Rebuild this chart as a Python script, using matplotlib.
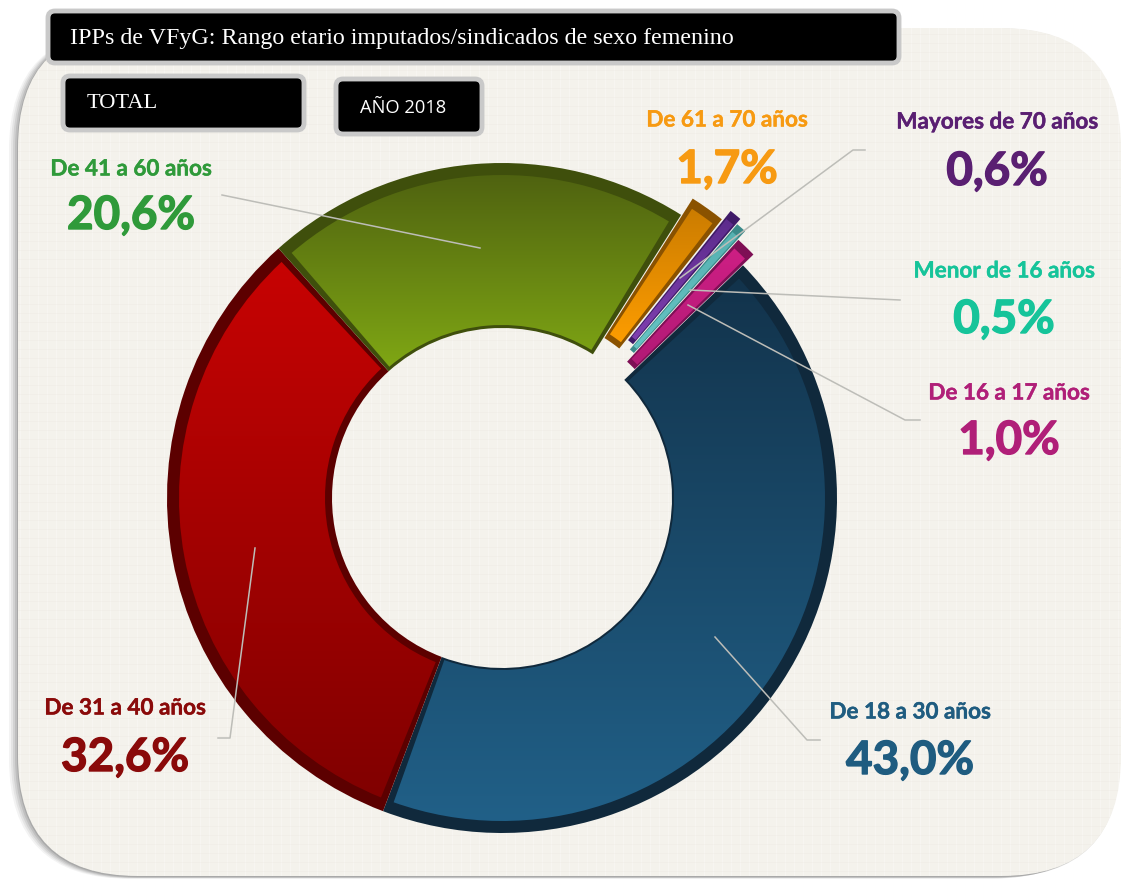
import numpy as np
import matplotlib
matplotlib.use('Agg')
import matplotlib.pyplot as plt
import matplotlib.patheffects as pe
from matplotlib.colors import LinearSegmentedColormap
from matplotlib.patches import FancyBboxPatch, Wedge

labels = ['De 18 a 30 años', 'De 31 a 40 años', 'De 41 a 60 años', 'De 61 a 70 años',
          'Mayores de 70 años', 'Menor de 16 años', 'De 16 a 17 años']
values = [43.0, 32.6, 20.6, 1.7, 0.6, 0.5, 1.0]
pct_labels = ['43,0%', '32,6%', '20,6%', '1,7%', '0,6%', '0,5%', '1,0%']
explode = [0, 0, 0, 20, 32, 26, 15]
rim_colors = ['#10293c', '#5c0000', '#3f4f0c', '#8a5200', '#3f1a68', '#3a8a8a', '#7e0f55']
top_colors = ['#12324a', '#c90303', '#4c5e10', '#c87a00', '#5a2a8a', '#55b0b0', '#d01f85']
bottom_colors = ['#216189', '#7f0000', '#80a814', '#ff9e00', '#8040b0', '#66c4c4', '#b01a75']
text_colors = ['#1f5c80', '#8a0a0a', '#2f9a3a', '#f79a12', '#5a1f72', '#16c49a', '#b01f78']
inner_rim = [2, 7, 3, 6, 5, 5, 5]

# label x centre, name y, pct y (pixels from the top of the picture)
label_pos = [(910, 712, 761), (125, 708, 758), (131, 169, 216), (727, 120, 170),
             (997, 122, 172), (1004, 271, 320), (1009, 393, 441)]
leaders = [[(820, 740), (807, 740), (715, 637)],
           [(218, 738), (230, 738), (255, 548)],
           [(222, 195), (480, 248)],
           [(865, 150), (853, 150), (680, 278)],
           [(900, 300), (690, 290)],
           [(920, 420), (905, 420), (688, 305)]]

W, H = 1121, 880


def Y(y):
    return H - y


fig = plt.figure(figsize=(W / 100, H / 100), dpi=100)
ax = fig.add_axes([0, 0, 1, 1])

# paper with soft shadow down and to the left
for grow, a in zip([9, 7, 5, 3, 1], [0.07, 0.09, 0.12, 0.15, 0.2]):
    ax.add_patch(FancyBboxPatch((18 - grow, Y(877 + grow * 0.2)), 1103, 849,
                                boxstyle='round,pad=0,rounding_size=120',
                                fc='#555555', ec='none', alpha=a, zorder=1))
paper = FancyBboxPatch((18, Y(876)), 1103, 848, boxstyle='round,pad=0,rounding_size=120',
                       fc='#f4f2ec', ec='none', zorder=2)
ax.add_patch(paper)
for p in range(20, 1130, 9):
    ln = ax.plot([p, p], [0, H], color='#ffffff', lw=0.8, alpha=0.3, zorder=3)[0]
    ln.set_clip_path(paper)
for p in range(0, 880, 9):
    ln = ax.plot([0, W], [p, p], color='#e6e3da', lw=0.6, alpha=0.25, zorder=3)[0]
    ln.set_clip_path(paper)

# donut
R = 335
RIN = 170
wedges, _ = ax.pie(values, explode=explode, startangle=44, counterclock=False,
                   colors=rim_colors, center=(502, Y(498)), radius=R,
                   wedgeprops={'width': R - RIN, 'zorder': 5, 'linewidth': 0})
ax.set_frame_on(False)

for w, top, bottom, inn in zip(wedges, top_colors, bottom_colors, inner_rim):
    span = w.theta2 - w.theta1
    big = span > 20
    out = 12 if big else 9
    d = 1.2 if big else span * 0.14
    inner = Wedge(w.center, w.r - out, w.theta1 + d, w.theta2 - d, width=w.width - out - inn,
                  fc='none', ec='none', zorder=6)
    ax.add_patch(inner)
    box = w.get_path().get_extents()
    cmap = LinearSegmentedColormap.from_list('g', [bottom, top])
    im = ax.imshow(np.linspace(0, 1, 256).reshape(-1, 1), cmap=cmap, origin='lower', aspect='auto',
                   extent=(box.x0, box.x1, box.y0, box.y1), zorder=6)
    im.set_clip_path(inner)

for pts in leaders:
    ax.plot([p[0] for p in pts], [Y(p[1]) for p in pts], color='#bdbdb8', lw=1.1, zorder=7)

for name, pct, c, (x, y1, y2) in zip(labels, pct_labels, text_colors, label_pos):
    t1 = ax.text(x, Y(y1), name, color=c, fontsize=16.2, fontweight='bold', family='Lato',
                 ha='center', va='center', zorder=8)
    t2 = ax.text(x, Y(y2), pct, color=c, fontsize=33, fontweight='bold', family='Lato',
                 ha='center', va='center', zorder=8)
    t1.set_path_effects([pe.withStroke(linewidth=0.3, foreground=c)])
    t2.set_path_effects([pe.withStroke(linewidth=1.0, foreground=c)])

# header boxes
for x0, y0, x1, y1 in [(45, 8, 902, 66), (60, 73, 307, 133), (333, 76, 485, 137)]:
    ax.add_patch(FancyBboxPatch((x0 + 3, Y(y1 - 3)), x1 - x0 - 6, y1 - y0 - 6,
                                boxstyle='round,pad=0,rounding_size=7', fc='black',
                                ec='#c9c9c9', lw=3.5, zorder=9))
ax.text(70, Y(38), 'IPPs de VFyG: Rango etario imputados/sindicados de sexo femenino', color='white',
        fontsize=17.3, family='Liberation Serif', va='center', zorder=10)
ax.text(87, Y(103), 'TOTAL', color='white', fontsize=16.2, family='Liberation Serif', va='center', zorder=10)
ax.text(360, Y(108), 'AÑO 2018', color='white', fontsize=13.2, family='Open Sans', va='center', zorder=10)

ax.set_xlim(0, W)
ax.set_ylim(0, H)
ax.set_aspect('auto')
ax.axis('off')
fig.savefig('out.png', dpi=100, facecolor='white')
